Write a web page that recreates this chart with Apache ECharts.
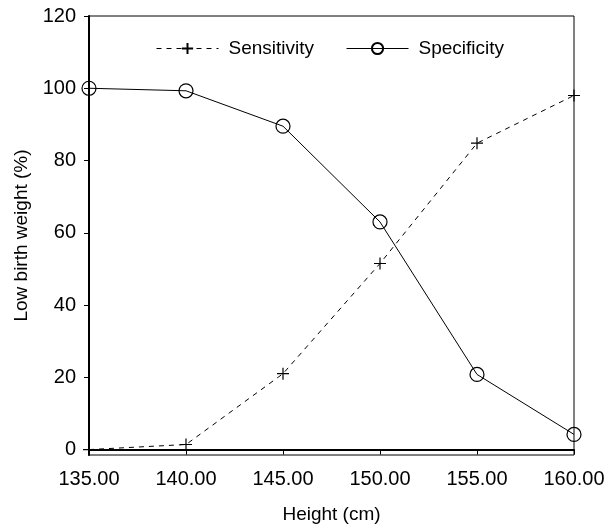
<!DOCTYPE html>
<html>
<head>
<meta charset="utf-8">
<script src="https://cdn.jsdelivr.net/npm/echarts@6/dist/echarts.min.js"></script>
<style>
  html, body { margin: 0; padding: 0; background: #fff; }
  #chart { width: 615px; height: 529px; }
</style>
</head>
<body>
<div id="chart"></div>
<script>
const heights = [135, 140, 145, 150, 155, 160]
const sensitivity = [0, 1.4, 21, 51.5, 84.8, 98]
const specificity = [100, 99.3, 89.5, 63, 20.8, 4.2]
const yTicks = [0, 20, 40, 60, 80, 100, 120]

const font = 'Liberation Sans, Arial, sans-serif'
const plusPath = 'path://M0,5 L10,5 M5,0 L5,10'

const chart = echarts.init(document.getElementById('chart'))
const pair = arr => heights.map((h, i) => [h, arr[i]])

chart.setOption({
  animation: false,
  grid: {
    left: 89, right: 41, top: 16, bottom: 73,
    show: true, borderColor: '#000', borderWidth: 1
  },
  legend: {
    left: 151, top: 34,
    itemWidth: 62, itemHeight: 14, itemGap: 32,
    lineStyle: { width: 1 },
    textStyle: { fontFamily: font, fontSize: 19, color: '#000', padding: [0, 0, 0, 5] },
    data: ['Sensitivity', 'Specificity']
  },
  xAxis: {
    type: 'value', min: 135, max: 160, interval: 5,
    name: 'Height (cm)', nameLocation: 'middle', nameGap: 50,
    nameTextStyle: { fontFamily: font, fontSize: 19, color: '#000' },
    axisLine: { lineStyle: { color: '#000', width: 2 } },
    axisTick: { length: 5, lineStyle: { color: '#000' } },
    axisLabel: { fontFamily: font, fontSize: 20, color: '#000', margin: 14,
      formatter: v => v.toFixed(2) },
    splitLine: { show: false }
  },
  yAxis: {
    type: 'value', min: -1.5, max: 120,
    name: 'Low birth weight (%)', nameLocation: 'middle', nameGap: 52,
    nameTextStyle: { fontFamily: font, fontSize: 19, color: '#000' },
    axisLine: { show: true, lineStyle: { color: '#000', width: 2 } },
    axisTick: { show: true, length: 5, customValues: yTicks, lineStyle: { color: '#000' } },
    axisLabel: { fontFamily: font, fontSize: 20, color: '#000', margin: 13,
      customValues: yTicks },
    splitLine: { show: false }
  },
  series: [
    {
      name: 'Sensitivity', type: 'line', data: pair(sensitivity),
      symbol: plusPath, symbolSize: 12, showAllSymbol: true,
      lineStyle: { color: '#000', width: 1, type: [5, 5] },
      itemStyle: { color: 'none', borderColor: '#000', borderWidth: 1.2 }
    },
    {
      name: 'Specificity', type: 'line', data: pair(specificity),
      symbol: 'circle', symbolSize: 14, showAllSymbol: true,
      lineStyle: { color: '#000', width: 1 },
      itemStyle: { color: 'rgba(0,0,0,0)', borderColor: '#000', borderWidth: 1.2 }
    }
  ]
})
</script>
</body>
</html>
